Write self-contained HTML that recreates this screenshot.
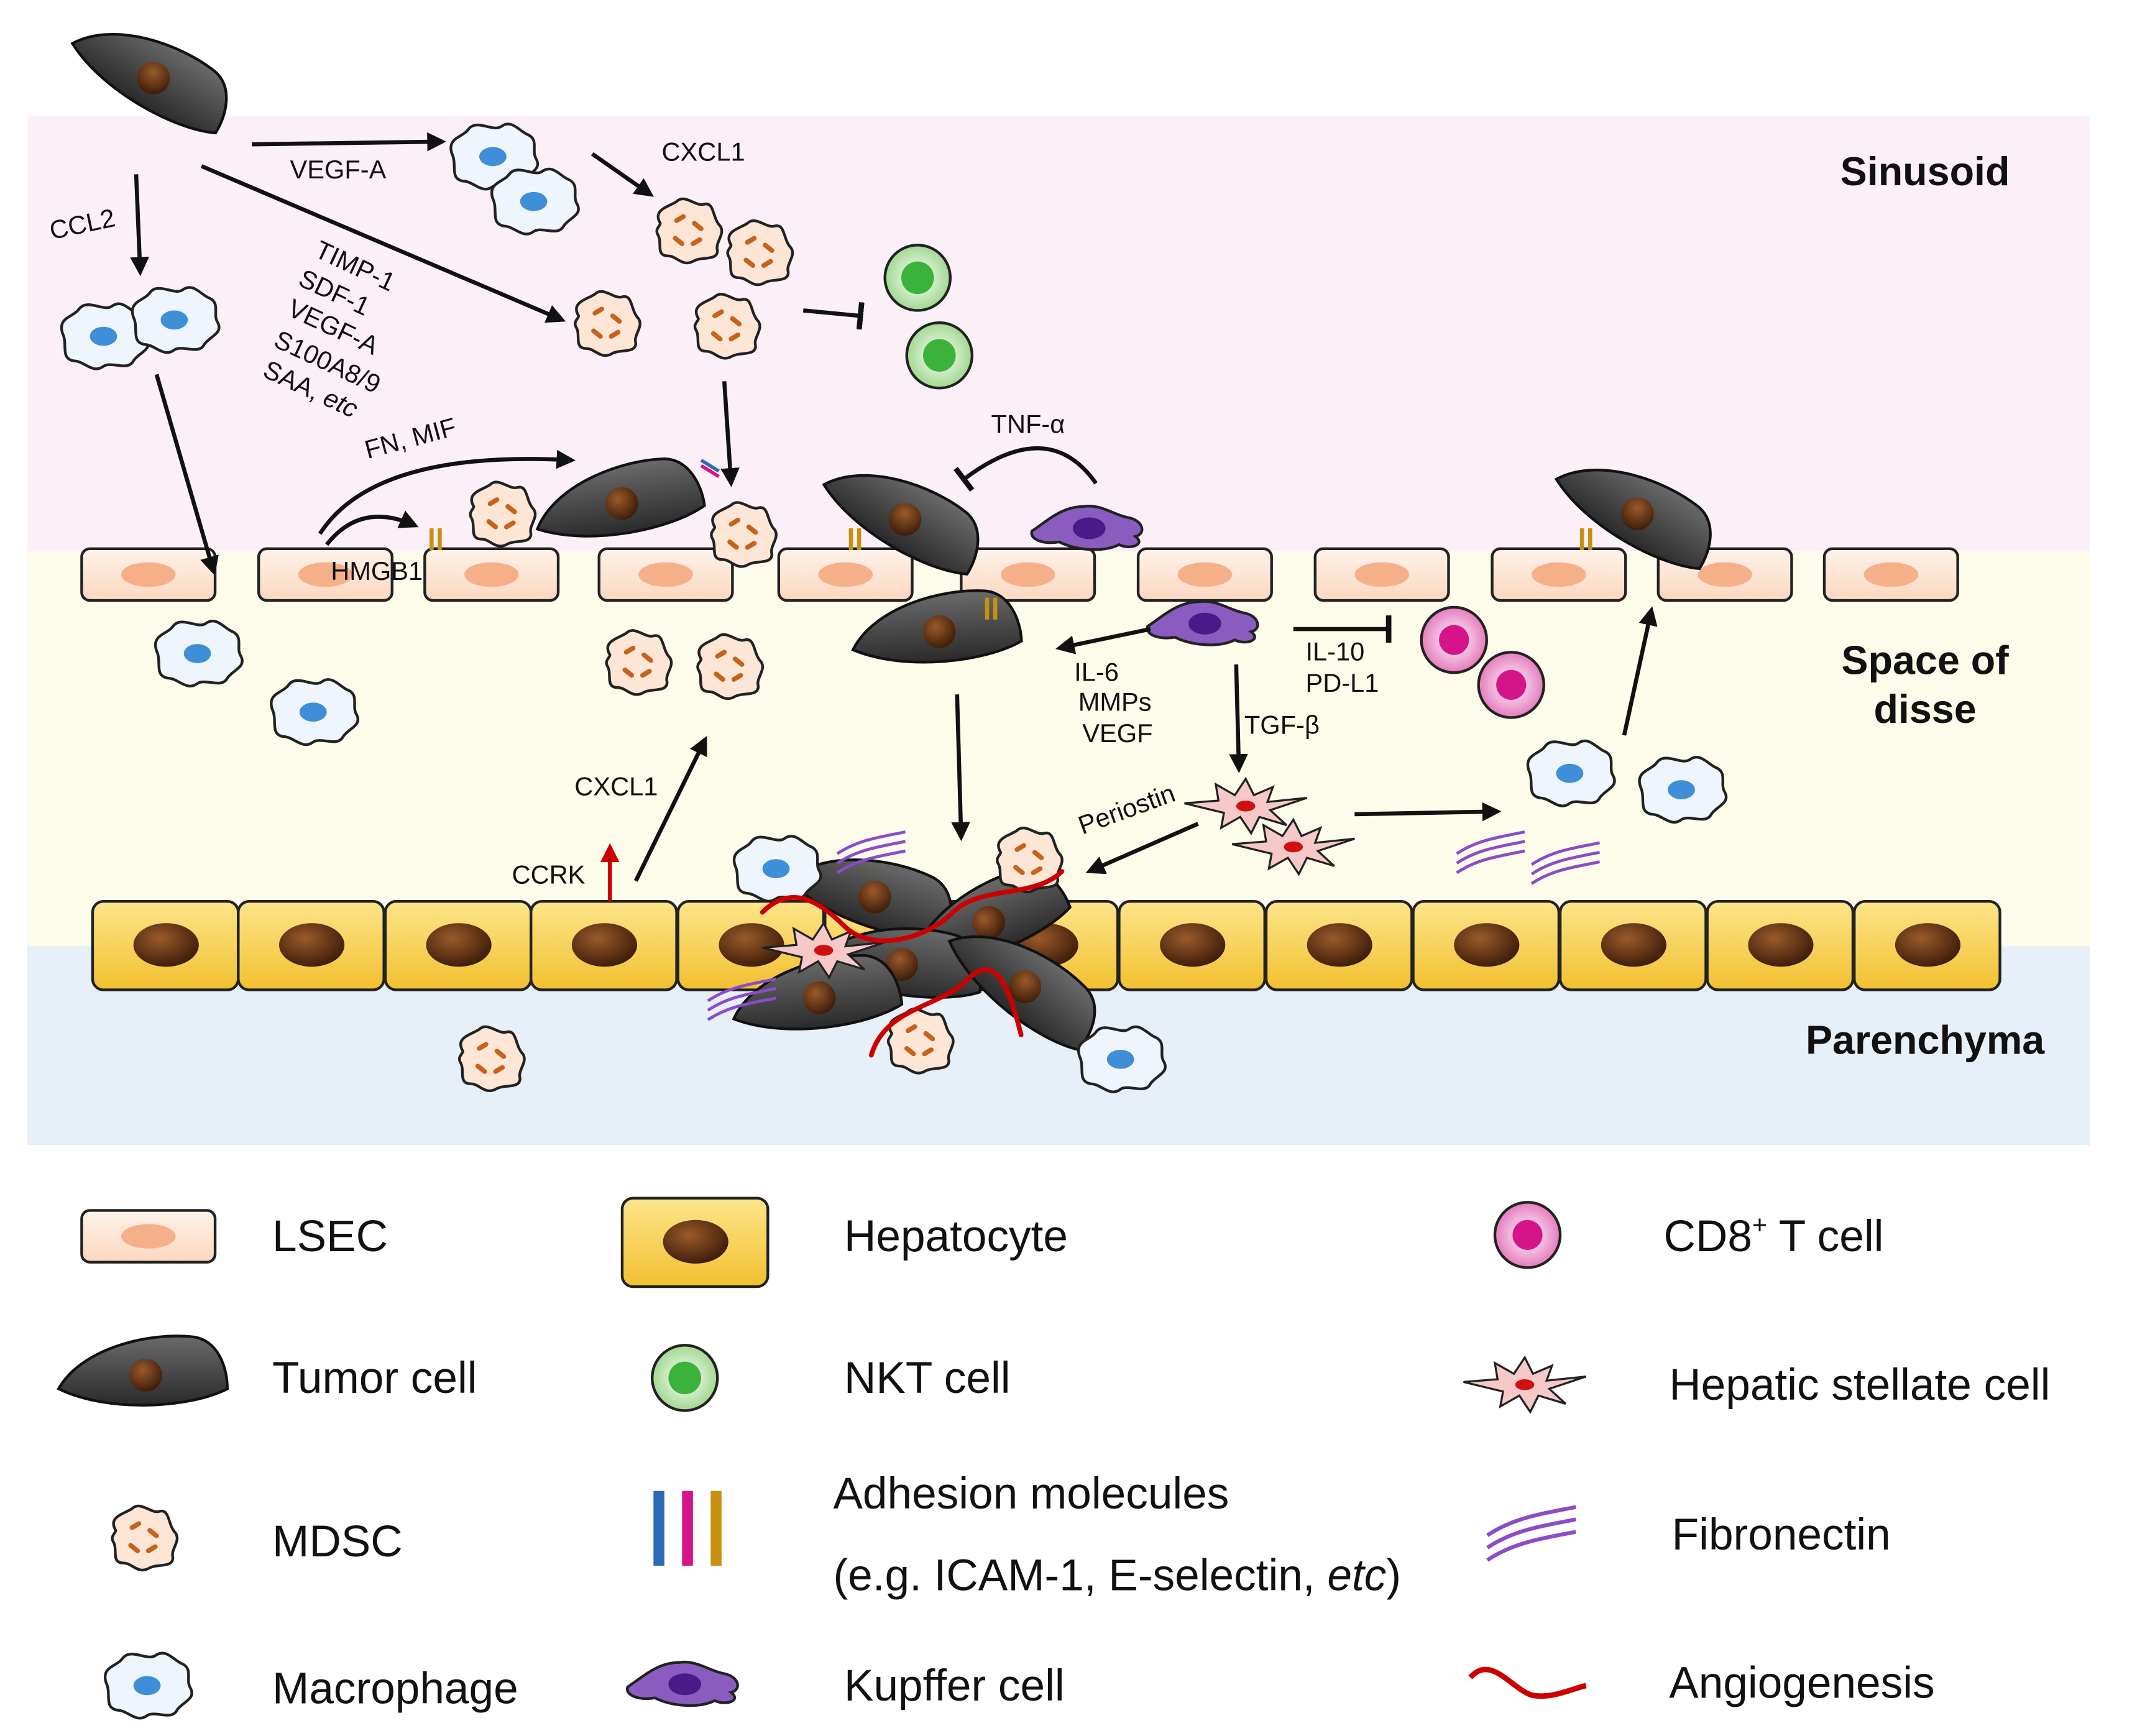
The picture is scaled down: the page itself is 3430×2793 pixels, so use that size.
<!DOCTYPE html>
<html><head><meta charset="utf-8"><style>
html,body{margin:0;padding:0;background:#fff;}
svg{display:block;}
text{font-family:"Liberation Sans",Arial,sans-serif;fill:#111;}
</style></head><body>
<svg width="3430" height="2793" viewBox="0 0 1566 1275" preserveAspectRatio="none" xmlns="http://www.w3.org/2000/svg">
<defs>
<marker id="a" viewBox="0 0 10 10" refX="8" refY="5" markerWidth="14" markerHeight="14" orient="auto" markerUnits="userSpaceOnUse"><path d="M0,0 L10,5 L0,10 Z" fill="#111"/></marker>
<marker id="ar" viewBox="0 0 10 10" refX="8" refY="5" markerWidth="14" markerHeight="14" orient="auto" markerUnits="userSpaceOnUse"><path d="M0,0 L10,5 L0,10 Z" fill="#c00"/></marker>
<marker id="t" viewBox="0 0 4 20" refX="2" refY="10" markerWidth="4" markerHeight="20" orient="auto" markerUnits="userSpaceOnUse"><rect x="0" y="0" width="4" height="20" fill="#111"/></marker>
<radialGradient id="gn" cx="0.4" cy="0.35" r="0.7"><stop offset="0" stop-color="#9a5a2a"/><stop offset="1" stop-color="#3a1a08"/></radialGradient>
<linearGradient id="gt" x1="0" y1="0" x2="0" y2="1"><stop offset="0" stop-color="#6a6a6a"/><stop offset="1" stop-color="#2a2a2a"/></linearGradient>
<linearGradient id="gh" x1="0" y1="0" x2="0" y2="1"><stop offset="0" stop-color="#fde58a"/><stop offset="1" stop-color="#f2c030"/></linearGradient>
<linearGradient id="gl" x1="0" y1="0" x2="0" y2="1"><stop offset="0" stop-color="#fff3ea"/><stop offset="1" stop-color="#fbd7c0"/></linearGradient>
<radialGradient id="gk" cx="0.5" cy="0.5" r="0.6"><stop offset="0" stop-color="#fff"/><stop offset="1" stop-color="#8fd07a"/></radialGradient>
<radialGradient id="gc" cx="0.5" cy="0.5" r="0.6"><stop offset="0" stop-color="#fff"/><stop offset="1" stop-color="#e060b0"/></radialGradient>
<g id="tumor"><path d="M-62,8 C-45,-22 5,-34 38,-30 C55,-27 62,-8 62,8 C35,22 -25,26 -62,8Z" fill="url(#gt)" stroke="#111" stroke-width="2"/><circle cx="2" cy="-2" r="12" fill="url(#gn)"/></g>
<g id="mac"><path d="M-30,-2 C-34,-14 -22,-14 -18,-20 C-12,-28 0,-18 6,-22 C14,-28 20,-18 26,-16 C34,-12 28,-4 32,2 C36,10 26,12 22,18 C18,26 6,18 0,22 C-8,28 -14,18 -22,18 C-32,16 -26,6 -30,-2Z" fill="#eef5fc" stroke="#222" stroke-width="2"/><ellipse cx="0" cy="0" rx="10" ry="7" fill="#3f8fd8"/></g>
<g id="mdsc"><path d="M-20,-6 C-26,-16 -14,-18 -8,-22 C-2,-28 6,-18 12,-20 C20,-22 18,-10 24,-4 C28,2 20,8 22,14 C22,22 10,18 4,22 C-4,26 -8,18 -14,18 C-24,18 -18,8 -22,2 C-24,-2 -20,-4 -20,-6Z" fill="#fde6d6" stroke="#222" stroke-width="2"/><g stroke="#c8621a" stroke-width="3.5" stroke-linecap="round"><line x1="-8" y1="-8" x2="-3" y2="-11"/><line x1="5" y1="-6" x2="10" y2="-2"/><line x1="-9" y1="5" x2="-4" y2="9"/><line x1="4" y1="9" x2="9" y2="6"/></g></g>
<g id="nkt"><circle r="24" fill="url(#gk)" stroke="#222" stroke-width="2"/><circle r="12" fill="#3bb33b"/></g>
<g id="cd8"><circle r="24" fill="url(#gc)" stroke="#222" stroke-width="2"/><circle r="11" fill="#d6148a"/></g>
<g id="kup"><path d="M-42,2 C-30,-6 -20,-16 -4,-16 C8,-18 18,-10 28,-8 C40,-6 42,4 34,6 C42,12 30,16 22,12 C10,18 -10,16 -22,10 C-34,12 -44,8 -42,2Z" fill="#8a5cc0" stroke="#222" stroke-width="2"/><ellipse cx="0" cy="0" rx="12" ry="8" fill="#4a1a8a"/></g>
<g id="hsc"><path d="M-45,-2 L-20,-4 L-22,-16 L-8,-8 L0,-20 L6,-8 L20,-14 L16,-3 L45,-6 L18,3 L30,14 L10,8 L4,20 L-4,8 L-18,16 L-16,5 Z" fill="#f7c8c8" stroke="#222" stroke-width="1.5"/><ellipse cx="0" cy="0" rx="7" ry="4" fill="#d01010"/></g>
<g id="fib" fill="none" stroke="#8a4cc8" stroke-width="2.2"><path d="M-25,2 C-10,-8 5,-10 25,-14"/><path d="M-25,9 C-10,-1 5,-3 25,-7"/><path d="M-25,16 C-10,6 5,4 25,0"/></g>
<g id="lsec"><rect x="0" y="0" width="98" height="38" rx="6" fill="url(#gl)" stroke="#222" stroke-width="2"/><ellipse cx="49" cy="19" rx="20" ry="9" fill="#f5b08a"/></g>
<g id="hep"><rect x="0" y="0" width="107" height="65" rx="8" fill="url(#gh)" stroke="#222" stroke-width="2"/><ellipse cx="54" cy="32" rx="24" ry="16" fill="url(#gn)"/></g>
<g id="adh" stroke="#c89010" stroke-width="3"><line x1="-3" y1="-8" x2="-3" y2="8"/><line x1="3" y1="-8" x2="3" y2="8"/></g>
</defs>

<rect x="20" y="85" width="1515" height="320" fill="#fcf0f8"/>
<rect x="20" y="405" width="1515" height="290" fill="#fdfbea"/>
<rect x="20" y="695" width="1515" height="146" fill="#e7eff8"/>

<g font-size="29.5" font-weight="bold" text-anchor="middle">
<text x="1414" y="136">Sinusoid</text>
<text x="1414" y="495">Space of</text>
<text x="1414" y="531">disse</text>
<text x="1414" y="774">Parenchyma</text>
</g>

<use href="#lsec" x="60" y="403"/><use href="#lsec" x="190" y="403"/><use href="#lsec" x="312" y="403"/><use href="#lsec" x="440" y="403"/><use href="#lsec" x="572" y="403"/><use href="#lsec" x="706" y="403"/><use href="#lsec" x="836" y="403"/><use href="#lsec" x="966" y="403"/><use href="#lsec" x="1096" y="403"/><use href="#lsec" x="1218" y="403"/><use href="#lsec" x="1340" y="403"/>

<use href="#hep" x="68" y="662"/><use href="#hep" x="175" y="662"/><use href="#hep" x="283" y="662"/><use href="#hep" x="390" y="662"/><use href="#hep" x="498" y="662"/><use href="#hep" x="606" y="662"/><use href="#hep" x="714" y="662"/><use href="#hep" x="822" y="662"/><use href="#hep" x="930" y="662"/><use href="#hep" x="1038" y="662"/><use href="#hep" x="1146" y="662"/><use href="#hep" x="1254" y="662"/><use href="#hep" x="1362" y="662"/>

<use href="#tumor" transform="translate(110,58) rotate(32)"/>
<use href="#tumor" transform="translate(455,372) rotate(-8)"/>
<use href="#tumor" transform="translate(662,382) rotate(32)"/>
<use href="#tumor" transform="translate(688,466) rotate(-3)"/>
<use href="#tumor" transform="translate(1200,378) rotate(32)"/>
<use href="#tumor" transform="translate(640,660) rotate(20)"/>
<use href="#tumor" transform="translate(725,680) rotate(-20)"/>
<use href="#tumor" transform="translate(660,710) rotate(10)"/>
<use href="#tumor" transform="translate(750,725) rotate(40)"/>
<use href="#tumor" transform="translate(600,735) rotate(-5)"/>

<use href="#mac" x="362" y="115"/><use href="#mac" x="392" y="148"/><use href="#mac" x="76" y="247"/><use href="#mac" x="128" y="235"/><use href="#mac" x="145" y="480"/><use href="#mac" x="230" y="523"/><use href="#mac" x="1153" y="568"/><use href="#mac" x="1235" y="580"/><use href="#mac" x="570" y="638"/><use href="#mac" x="823" y="778"/>

<use href="#mdsc" x="505" y="170"/><use href="#mdsc" x="557" y="186"/><use href="#mdsc" x="445" y="238"/><use href="#mdsc" x="533" y="240"/><use href="#mdsc" x="368" y="378"/><use href="#mdsc" x="545" y="393"/><use href="#mdsc" x="468" y="487"/><use href="#mdsc" x="535" y="490"/><use href="#mdsc" x="755" y="632"/><use href="#mdsc" x="360" y="778"/><use href="#mdsc" x="675" y="765"/>

<use href="#nkt" x="674" y="204"/><use href="#nkt" x="690" y="261"/>
<use href="#cd8" x="1068" y="470"/><use href="#cd8" x="1110" y="503"/>
<use href="#kup" x="800" y="388"/><use href="#kup" x="885" y="458"/>
<use href="#hsc" x="915" y="592"/><use href="#hsc" x="950" y="622"/><use href="#hsc" x="605" y="698"/>
<use href="#fib" x="640" y="625"/><use href="#fib" x="1095" y="625"/><use href="#fib" x="1150" y="633"/><use href="#fib" x="545" y="733"/>

<g fill="none" stroke="#c00" stroke-width="3.5" stroke-linecap="round">
<path d="M560,670 C580,650 600,660 620,680 C640,700 680,690 700,670 C720,650 760,660 780,640"/>
<path d="M640,775 C650,740 690,740 710,720 C730,700 740,720 750,760"/>
</g>

<use href="#adh" x="320" y="396"/><use href="#adh" x="628" y="396"/><use href="#adh" x="728" y="447"/><use href="#adh" x="1165" y="396"/>
<g stroke-width="2.5"><line x1="515" y1="338" x2="528" y2="346" stroke="#2a6ab8"/><line x1="515" y1="342" x2="528" y2="350" stroke="#d6148a"/></g>

<g stroke="#111" stroke-width="3" fill="none">
<line x1="185" y1="106" x2="325" y2="104" marker-end="url(#a)"/>
<line x1="148" y1="122" x2="413" y2="235" marker-end="url(#a)"/>
<line x1="100" y1="128" x2="103" y2="200" marker-end="url(#a)"/>
<line x1="115" y1="275" x2="157" y2="420" marker-end="url(#a)"/>
<line x1="435" y1="113" x2="478" y2="143" marker-end="url(#a)"/>
<line x1="590" y1="228" x2="632" y2="232" marker-end="url(#t)"/>
<line x1="532" y1="280" x2="537" y2="355" marker-end="url(#a)"/>
<path d="M235,392 Q275,330 420,338" marker-end="url(#a)"/>
<path d="M240,400 Q265,368 305,386" marker-end="url(#a)"/>
<path d="M805,355 Q770,305 708,352" marker-end="url(#t)"/>
<line x1="845" y1="462" x2="778" y2="476" marker-end="url(#a)"/>
<line x1="908" y1="488" x2="910" y2="565" marker-end="url(#a)"/>
<line x1="950" y1="462" x2="1020" y2="462" marker-end="url(#t)"/>
<line x1="880" y1="605" x2="800" y2="640" marker-end="url(#a)"/>
<line x1="995" y1="598" x2="1100" y2="596" marker-end="url(#a)"/>
<line x1="1193" y1="540" x2="1213" y2="448" marker-end="url(#a)"/>
<line x1="703" y1="510" x2="706" y2="615" marker-end="url(#a)"/>
<line x1="467" y1="647" x2="518" y2="543" marker-end="url(#a)"/>
<line x1="448" y1="662" x2="448" y2="622" stroke="#c00" marker-end="url(#ar)"/>
</g>

<g font-size="19">
<text x="213" y="131">VEGF-A</text>
<text x="38" y="176" transform="rotate(-12 38 176)">CCL2</text>
<text x="486" y="118">CXCL1</text>
<g transform="translate(230,188) rotate(25)"><text x="0" y="0">TIMP-1</text></g>
<g transform="translate(218,209) rotate(25)"><text x="0" y="0">SDF-1</text></g>
<g transform="translate(210,231) rotate(25)"><text x="0" y="0">VEGF-A</text></g>
<g transform="translate(200,254) rotate(25)"><text x="0" y="0">S100A8/9</text></g>
<g transform="translate(192,276) rotate(25)"><text x="0" y="0">SAA,  <tspan font-style="italic">etc</tspan></text></g>
<text x="270" y="337" transform="rotate(-15 270 337)">FN, MIF</text>
<text x="243" y="426">HMGB1</text>
<text x="728" y="318">TNF-α</text>
<text x="789" y="500">IL-6</text>
<text x="792" y="522">MMPs</text>
<text x="795" y="545">VEGF</text>
<text x="914" y="539">TGF-β</text>
<text x="959" y="485">IL-10</text>
<text x="959" y="508">PD-L1</text>
<text x="795" y="613" transform="rotate(-20 795 613)">Periostin</text>
<text x="422" y="584">CXCL1</text>
<text x="376" y="649">CCRK</text>
</g>

<g font-size="32.5">
<use href="#lsec" x="60" y="889"/><text x="200" y="919">LSEC</text>
<use href="#hep" x="457" y="880"/><text x="620" y="919">Hepatocyte</text>
<use href="#cd8" x="1122" y="907"/><text x="1222" y="919">CD8<tspan font-size="19" dy="-13">+</tspan><tspan dy="13"> T cell</tspan></text>
<use href="#tumor" transform="translate(105,1012) rotate(0)"/><text x="200" y="1023">Tumor cell</text>
<use href="#nkt" x="503" y="1012"/><text x="620" y="1023">NKT cell</text>
<use href="#hsc" x="1120" y="1017"/><text x="1226" y="1028">Hepatic stellate cell</text>
<use href="#mdsc" x="105" y="1130"/><text x="200" y="1143">MDSC</text>
<g stroke-width="8"><line x1="484" y1="1095" x2="484" y2="1150" stroke="#2a6ab8"/><line x1="505" y1="1095" x2="505" y2="1150" stroke="#d6148a"/><line x1="526" y1="1095" x2="526" y2="1150" stroke="#c89010"/></g>
<text x="612" y="1108">Adhesion molecules</text>
<text x="612" y="1168">(e.g. ICAM-1, E-selectin, <tspan font-style="italic">etc</tspan>)</text>
<use href="#fib" transform="translate(1125,1125) scale(1.3)"/><text x="1228" y="1138">Fibronectin</text>
<use href="#mac" x="108" y="1238"/><text x="200" y="1251">Macrophage</text>
<use href="#kup" x="503" y="1237"/><text x="620" y="1249">Kupffer cell</text>
<path d="M1080,1232 C1095,1215 1110,1240 1125,1245 C1140,1248 1155,1240 1165,1238" fill="none" stroke="#c00" stroke-width="4"/><text x="1226" y="1247">Angiogenesis</text>
</g>
</svg>
</body></html>
